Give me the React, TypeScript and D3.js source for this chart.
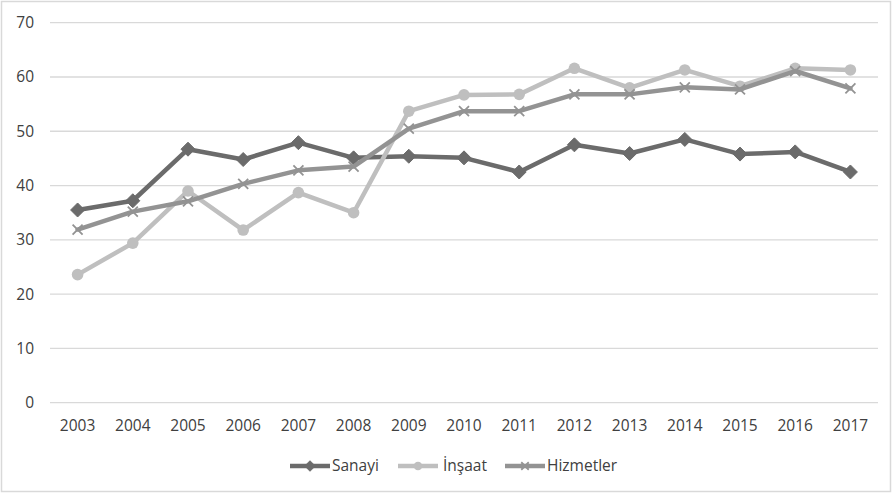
import React from "react";
import * as d3 from "d3";

const years = ["2003","2004","2005","2006","2007","2008","2009","2010","2011","2012","2013","2014","2015","2016","2017"];
const sanayi = [35.5,37.2,46.7,44.8,47.9,45.1,45.4,45.1,42.5,47.5,45.9,48.5,45.8,46.2,42.5];
const insaat = [23.6,29.4,39.0,31.8,38.7,35.0,53.7,56.7,56.8,61.6,58.0,61.3,58.3,61.6,61.3];
const hizmetler = [31.9,35.2,37.1,40.3,42.8,43.5,50.5,53.7,53.7,56.8,56.8,58.1,57.7,61.1,57.9];
const yTicks = [0,10,20,30,40,50,60,70];
const seriesNames = ["Sanayi","İnşaat","Hizmetler"];

const W = 893, H = 494;
const FONT = "'Open Sans', 'Noto Sans', sans-serif";
const TEXT = "#404040";
const FS = 15.5;

export default function App() {
  const x = d3.scaleBand<string>().domain(years).range([50, 878]).padding(0);
  const y = d3.scaleLinear().domain([0, 70]).range([402.7, 22.7]);
  const cx = (yr: string) => (x(yr) as number) + x.bandwidth() / 2;
  const line = d3.line<[string, number]>().x(d => cx(d[0])).y(d => y(d[1]));

  const series = [
    { name: seriesNames[0], values: sanayi, color: "#6b6b6b", marker: "diamond" },
    { name: seriesNames[1], values: insaat, color: "#bfbfbf", marker: "circle" },
    { name: seriesNames[2], values: hizmetler, color: "#939393", marker: "x" },
  ];

  const marker = (type: string, px: number, py: number, color: string, key: string | number, size = 1) => {
    if (type === "diamond") {
      const s = 7 * size;
      return <path key={key} d={`M${px},${py - s}L${px + s},${py}L${px},${py + s}L${px - s},${py}Z`} fill={color} stroke={color} strokeWidth={1} />;
    }
    if (type === "circle") {
      return <circle key={key} cx={px} cy={py} r={5.8 * size} fill={color} />;
    }
    const s = 5 * size;
    return (
      <path key={key} d={`M${px - s},${py - s}L${px + s},${py + s}M${px - s},${py + s}L${px + s},${py - s}`} stroke={color} strokeWidth={1.8} fill="none" />
    );
  };

  const legendItems = [
    { lx: 290, tx: 332 },
    { lx: 398, tx: 443 },
    { lx: 505, tx: 547 },
  ];
  const legendY = 466;

  return (
    <svg width={W} height={H} style={{ position: "absolute", left: 0, top: 0, fontFamily: FONT }}>
      <rect x={0} y={0} width={W} height={H} fill="#ffffff" />
      <rect x={1.5} y={1.5} width={889} height={490} fill="none" stroke="#d9d9d9" strokeWidth={1.5} />
      {yTicks.map(t => (
        <g key={t}>
          <line x1={50} x2={878} y1={y(t)} y2={y(t)} stroke="#d9d9d9" strokeWidth={1.3} />
          <text x={34} y={y(t)} dy="0.35em" textAnchor="end" fontSize={FS} fill={TEXT}>{t}</text>
        </g>
      ))}
      {years.map(yr => (
        <text key={yr} x={cx(yr)} y={426} dy="0.35em" textAnchor="middle" fontSize={FS} fill={TEXT}>{yr}</text>
      ))}
      {series.map(s => {
        const pts = years.map((yr, i) => [yr, s.values[i]] as [string, number]);
        return (
          <g key={s.name}>
            <path d={line(pts) || ""} fill="none" stroke={s.color} strokeWidth={4.5} strokeLinejoin="round" strokeLinecap="round" />
            {pts.map((p, i) => marker(s.marker, cx(p[0]), y(p[1]), s.color, i))}
          </g>
        );
      })}
      {series.map((s, i) => (
        <g key={"lg" + s.name}>
          <line x1={legendItems[i].lx} x2={legendItems[i].lx + 40} y1={legendY} y2={legendY} stroke={s.color} strokeWidth={4.5} />
          {marker(s.marker, legendItems[i].lx + 20, legendY, s.color, "m", 0.75)}
          <text x={legendItems[i].tx} y={legendY} dy="0.35em" fontSize={FS} fill={TEXT}>{s.name}</text>
        </g>
      ))}
    </svg>
  );
}
